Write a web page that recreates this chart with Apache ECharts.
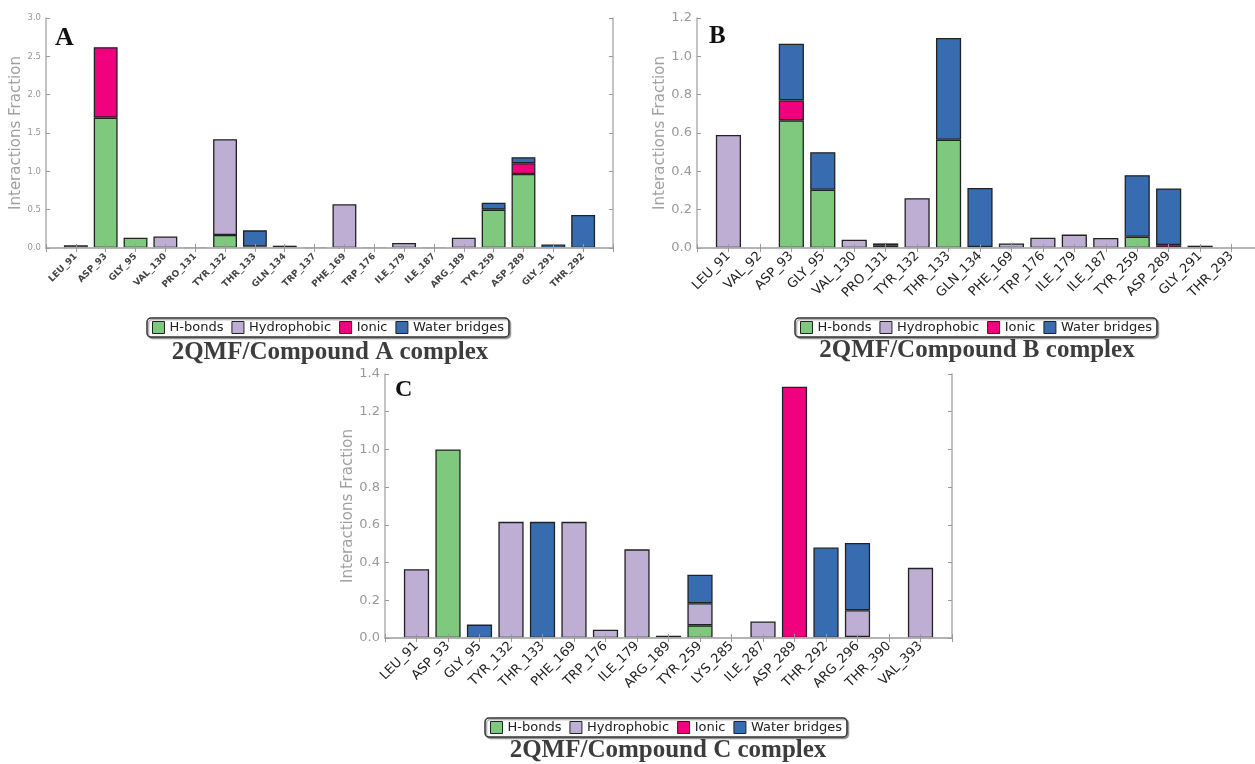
<!DOCTYPE html>
<html lang="en">
<head>
<meta charset="UTF-8">
<title>2QMF interactions</title>
<script src="https://cdn.jsdelivr.net/npm/echarts@6/dist/echarts.min.js"></script>
<style>
    html, body { margin: 0; padding: 0; background: #fff; }
    #chart { width: 1255px; height: 764px; }
</style>
</head>
<body>
<div id="chart"></div>
<script>
var seriesNames = ['H-bonds', 'Hydrophobic', 'Ionic', 'Water bridges'];
var colors = ['#7fc97f', '#beaed4', '#f0027f', '#386cb0'];

// Compound A
var residuesA = ['LEU_91', 'ASP_93', 'GLY_95', 'VAL_130', 'PRO_131', 'TYR_132', 'THR_133', 'GLN_134', 'TRP_137',
    'PHE_169', 'TRP_176', 'ILE_179', 'ILE_187', 'ARG_189', 'TYR_259', 'ASP_289', 'GLY_291', 'THR_292'];
var hbondsA = [0, 1.70, 0.135, 0, 0, 0.17, 0.02, 0, 0, 0, 0, 0, 0, 0, 0.50, 0.965, 0, 0];
var hydroA  = [0.035, 0, 0, 0.15, 0.01, 1.25, 0, 0, 0.008, 0.57, 0.01, 0.065, 0.01, 0.135, 0, 0, 0, 0];
var ionicA  = [0, 0.92, 0, 0, 0, 0, 0, 0, 0, 0, 0, 0, 0, 0, 0, 0.14, 0, 0];
var waterA  = [0, 0, 0, 0, 0, 0, 0.21, 0.03, 0, 0, 0, 0, 0, 0, 0.09, 0.08, 0.045, 0.43];

// Compound B
var residuesB = ['LEU_91', 'VAL_92', 'ASP_93', 'GLY_95', 'VAL_130', 'PRO_131', 'TYR_132', 'THR_133', 'GLN_134',
    'PHE_169', 'TRP_176', 'ILE_179', 'ILE_187', 'TYR_259', 'ASP_289', 'GLY_291', 'THR_293'];
var hbondsB = [0, 0, 0.666, 0.304, 0, 0, 0, 0.565, 0.005, 0, 0, 0, 0, 0.059, 0, 0.012, 0];
var hydroB  = [0.59, 0, 0, 0, 0.043, 0.012, 0.26, 0, 0, 0.024, 0.054, 0.07, 0.052, 0, 0, 0, 0];
var ionicB  = [0, 0, 0.104, 0, 0, 0, 0, 0, 0, 0, 0, 0, 0, 0, 0.015, 0, 0];
var waterB  = [0, 0, 0.296, 0.196, 0, 0.012, 0, 0.531, 0.308, 0, 0, 0, 0, 0.321, 0.296, 0, 0];

// Compound C
var residuesC = ['LEU_91', 'ASP_93', 'GLY_95', 'TYR_132', 'THR_133', 'PHE_169', 'TRP_176', 'ILE_179', 'ARG_189',
    'TYR_259', 'LYS_285', 'ILE_287', 'ASP_289', 'THR_292', 'ARG_296', 'THR_390', 'VAL_393'];
var hbondsC = [0, 1.0, 0, 0, 0, 0, 0, 0, 0, 0.067, 0, 0, 0, 0, 0.005, 0, 0];
var hydroC  = [0.365, 0, 0, 0.616, 0, 0.616, 0.044, 0.47, 0, 0.117, 0, 0.088, 0, 0, 0.142, 0, 0.372];
var ionicC  = [0, 0, 0, 0, 0, 0, 0, 0, 0, 0, 0, 0, 1.333, 0, 0, 0, 0];
var waterC  = [0, 0, 0.071, 0, 0.616, 0, 0, 0, 0.012, 0.152, 0, 0, 0, 0.48, 0.357, 0, 0];

var yMaxA = 3.0, yStepA = 0.5;
var yMaxB = 1.2, yStepB = 0.2;
var yMaxC = 1.4, yStepC = 0.2;

// panel layout (matplotlib-like: one empty slot at each end of the x axis)
var panels = [
    { cats: residuesA, data: [hbondsA, hydroA, ionicA, waterA], max: yMaxA, step: yStepA,
      grid: { left: 46, top: 18, width: 567, height: 230 },
      xFont: 9, xWeight: 'bold', xColor: '#444', yFont: 8.5, nameGap: 21, xMargin: 7 },
    { cats: residuesB, data: [hbondsB, hydroB, ionicB, waterB], max: yMaxB, step: yStepB,
      grid: { left: 697, top: 18, width: 566, height: 230 },   // right edge is cut off by the page
      xFont: 13, xWeight: 'normal', xColor: '#222', yFont: 13, nameGap: 28, xMargin: 6 },
    { cats: residuesC, data: [hbondsC, hydroC, ionicC, waterC], max: yMaxC, step: yStepC,
      grid: { left: 385, top: 374, width: 567, height: 264 },
      xFont: 13, xWeight: 'normal', xColor: '#222', yFont: 13, nameGap: 28, xMargin: 6 }
];

function padCats(arr) { return [''].concat(arr, ['']); }
function padVals(arr) {
    return ['-'].concat(arr.map(function (v) { return v === 0 ? '-' : v; }), ['-']);
}

var grids = [], xAxes = [], yAxes = [], series = [];
var frameColor = '#b0b0b0';

panels.forEach(function (p, i) {
    p.grid.outerBoundsMode = 'none';
    p.grid.containLabel = false;
    grids.push(p.grid);
    var cats = padCats(p.cats);
    xAxes.push({
        type: 'category', gridIndex: i, data: cats, boundaryGap: false, z: 5,
        axisLine: { lineStyle: { color: frameColor, width: 1.5 } },
        axisTick: { inside: true, length: 4, interval: 0, lineStyle: { color: '#999' } },
        axisLabel: { interval: 0, rotate: 45, margin: p.xMargin, fontSize: p.xFont, fontWeight: p.xWeight,
            color: p.xColor, fontFamily: 'DejaVu Sans' }
    });
    xAxes.push({
        type: 'category', gridIndex: i, data: cats, boundaryGap: false, position: 'top', z: 5,
        axisLine: { lineStyle: { color: frameColor, width: 1.5 } },
        axisTick: { inside: true, length: 4, interval: 0, lineStyle: { color: '#999' } },
        axisLabel: { show: false }
    });
    yAxes.push({
        type: 'value', gridIndex: i, min: 0, max: p.max, interval: p.step, z: 5,
        name: 'Interactions Fraction', nameLocation: 'middle', nameGap: p.nameGap,
        nameTextStyle: { fontSize: 15, color: '#a0a0a0', fontFamily: 'DejaVu Sans' },
        axisLine: { show: true, lineStyle: { color: frameColor, width: 1.5 } },
        axisTick: { show: true, inside: true, length: 4, lineStyle: { color: '#999' } },
        axisLabel: { fontSize: p.yFont, color: '#999', margin: 5, fontFamily: 'DejaVu Sans',
            formatter: function (v) { return v.toFixed(1); } },
        splitLine: { show: false }
    });
    yAxes.push({
        type: 'value', gridIndex: i, min: 0, max: p.max, interval: p.step, position: 'right', z: 5,
        axisLine: { show: true, lineStyle: { color: frameColor, width: 1.5 } },
        axisTick: { show: true, inside: true, length: 4, lineStyle: { color: '#999' } },
        axisLabel: { show: false },
        splitLine: { show: false }
    });
    seriesNames.forEach(function (name, k) {
        series.push({
            name: name, type: 'bar', stack: 'p' + i,
            xAxisIndex: 2 * i, yAxisIndex: 2 * i,
            barWidth: '80%',
            data: padVals(p.data[k]),
            itemStyle: { color: colors[k], borderColor: '#222', borderWidth: 1.3 }
        });
    });
});

function legendAt(left, top) {
    return {
        data: seriesNames, left: left, top: top, icon: 'rect',
        itemWidth: 12, itemHeight: 12, itemGap: 8, padding: [3, 5],
        borderColor: '#333', borderWidth: 1.5, borderRadius: 4,
        shadowColor: 'rgba(0,0,0,0.35)', shadowOffsetX: 1.5, shadowOffsetY: 1.5, shadowBlur: 1,
        backgroundColor: '#fff',
        itemStyle: { borderColor: '#222', borderWidth: 1 },
        textStyle: { fontSize: 13, color: '#222', fontFamily: 'DejaVu Sans' },
        selectedMode: false
    };
}

var titleFont = 'bold 25px "Liberation Serif"';
function caption(text, x, y) {
    return { type: 'text', x: x, y: y,
        style: { text: text, font: titleFont, fill: '#3d3d3d', textAlign: 'center', textVerticalAlign: 'middle' } };
}
function letter(text, x, y, size) {
    return { type: 'text', x: x, y: y,
        style: { text: text, font: 'bold ' + size + 'px "Liberation Serif"', fill: '#111', textAlign: 'left', textVerticalAlign: 'middle' } };
}

var myChart = echarts.init(document.getElementById('chart'));
myChart.setOption({
    animation: false,
    grid: grids,
    xAxis: xAxes,
    yAxis: yAxes,
    legend: [legendAt(147, 318), legendAt(795, 318), legendAt(485, 718)],
    series: series,
    graphic: [
        caption('2QMF/Compound A complex', 330, 353),
        caption('2QMF/Compound B complex', 977, 351),
        caption('2QMF/Compound C complex', 668, 751),
        letter('A', 55, 38, 26),
        letter('B', 709, 37, 25),
        letter('C', 395, 390, 24)
    ]
});
</script>
</body>
</html>
